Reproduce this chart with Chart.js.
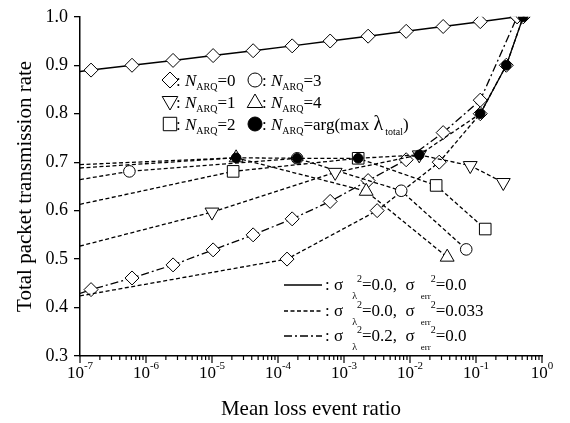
<!DOCTYPE html>
<html>
<head>
<meta charset="utf-8">
<script src="https://cdn.jsdelivr.net/npm/chart.js@4.4.0/dist/chart.umd.min.js"></script>
<style>
  html, body { margin: 0; padding: 0; background: #fff; }
</style>
</head>
<body>
<canvas id="lossChart" width="570" height="423"></canvas>
<script>
// axis ticks
const xTickExps = [-7, -6, -5, -4, -3, -2, -1, 0];
const xMinorMults = [2, 3, 4, 5, 6, 7, 8, 9];
const yTicks = [0.3, 0.4, 0.5, 0.6, 0.7, 0.8, 0.9, 1.0];

// solid: sigma_lambda^2=0.0, sigma_err^2=0.0, N_ARQ=0
const solidX = [1e-7, 1.47e-7, 6.14e-7, 2.57e-6, 1.04e-5, 4.2e-5, 1.64e-4, 6.17e-4, 2.32e-3, 8.75e-3, 3.18e-2, 0.116, 0.42];
const solidY = [0.887, 0.89, 0.90, 0.91, 0.92, 0.93, 0.94, 0.95, 0.96, 0.97, 0.98, 0.99, 1.0];

// dash-dot: sigma_lambda^2=0.2, sigma_err^2=0.0, N_ARQ=0
const dashDotX = [1e-7, 1.47e-7, 6.14e-7, 2.57e-6, 1.04e-5, 4.2e-5, 1.64e-4, 6.17e-4, 2.32e-3, 8.75e-3, 3.18e-2, 0.116, 0.42];
const dashDotY = [0.429, 0.437, 0.461, 0.488, 0.519, 0.550, 0.583, 0.619, 0.662, 0.705, 0.761, 0.828, 1.0];

// dashed: sigma_lambda^2=0.0, sigma_err^2=0.033
const n0X = [1e-7, 1.37e-4, 3.18e-3, 2.77e-2, 0.116, 0.288, 0.52];
const n0Y = [0.424, 0.50, 0.60, 0.70, 0.80, 0.90, 1.0];
const n1X = [1e-7, 1.0e-5, 7.35e-4, 1.38e-2, 8.18e-2, 0.259];
const n1Y = [0.527, 0.597, 0.679, 0.715, 0.693, 0.658];
const n2X = [1e-7, 2.09e-5, 1.64e-3, 2.49e-2, 0.138];
const n2Y = [0.613, 0.681, 0.708, 0.652, 0.562];
const n3X = [1e-7, 5.6e-7, 1.95e-4, 7.36e-3, 7.11e-2];
const n3Y = [0.664, 0.681, 0.708, 0.641, 0.520];
const n4X = [1e-7, 2.32e-5, 2.17e-3, 3.66e-2];
const n4Y = [0.688, 0.709, 0.640, 0.504];
const optX = [1e-7, 2.32e-5, 1.95e-4, 1.64e-3, 1.38e-2, 0.116, 0.288, 0.52];
const optY = [0.695, 0.709, 0.708, 0.708, 0.715, 0.80, 0.90, 1.0];

const serif = '"Liberation Serif", "DejaVu Serif", serif';
const DASH = [4, 2.5];
const DASHDOT = [8, 3, 2, 3];

function pts(xs, ys) {
    return xs.map((x, i) => ({ x, y: ys[i] }));
}

function series(xs, ys, style, r, dash, fill, width) {
    return {
        data: pts(xs, ys),
        borderColor: '#000',
        borderWidth: width || 1.3,
        borderDash: dash,
        pointStyle: style,
        rotation: style === 'triangle' && fill === 'down' ? 180 : 0,
        pointRadius: ctx => ctx.dataIndex === 0 ? 0 : r,
        pointBorderColor: '#000',
        pointBorderWidth: 1,
        pointBackgroundColor: fill === 'black' ? '#000' : '#fff',
        tension: 0,
        fill: false
    };
}

const optSet = series(optX, optY, 'circle', 4.8, DASH, 'black');
// where the optimum rides on the N_ARQ=0 curve the two dashed lines merge into a solid one
optSet.segment = { borderDash: c => c.p0.parsed.y >= 0.79 ? [] : DASH };

const datasets = [
    optSet,
    series(n1X, n1Y, 'triangle', 8, DASH, 'down'),
    series(n2X, n2Y, 'rect', 8.2, DASH),
    series(n3X, n3Y, 'circle', 5.8, DASH),
    series(n4X, n4Y, 'triangle', 8, DASH),
    series(n0X, n0Y, 'rectRot', 7, DASH),
    series(dashDotX, dashDotY, 'rectRot', 7, DASHDOT),
    series(solidX, solidY, 'rectRot', 7, [], null, 1.5)
];

function marker(ctx, style, x, y, r, fill) {
    ctx.beginPath();
    if (style === 'circle') {
        ctx.arc(x, y, r, 0, Math.PI * 2);
    } else if (style === 'rectRot') {
        ctx.moveTo(x - r, y); ctx.lineTo(x, y - r); ctx.lineTo(x + r, y); ctx.lineTo(x, y + r); ctx.closePath();
    } else if (style === 'rect') {
        const s = r * Math.SQRT1_2;
        ctx.rect(x - s, y - s, 2 * s, 2 * s);
    } else {
        const d = style === 'triangle' ? 1 : -1;
        ctx.moveTo(x, y - d * r);
        ctx.lineTo(x + 0.866 * r, y + d * 0.5 * r);
        ctx.lineTo(x - 0.866 * r, y + d * 0.5 * r);
        ctx.closePath();
    }
    ctx.fillStyle = fill;
    ctx.fill();
    ctx.stroke();
}

function runs(ctx, x, y, list) {
    list.forEach(r => {
        ctx.font = r.f;
        ctx.fillStyle = '#000';
        ctx.fillText(r.t, x, y + (r.dy || 0));
        x += ctx.measureText(r.t).width + (r.gap || 0);
    });
    return x;
}

const F17 = '17px ' + serif;
const FI17 = 'italic 17px ' + serif;
const F10 = '10px ' + serif;
const F9 = '9px ' + serif;

function arq(ctx, x, y, tail) {
    return runs(ctx, x, y, [
        { t: ': ', f: F17 },
        { t: 'N', f: FI17 },
        { t: 'ARQ', f: F10, dy: 4 },
        { t: tail, f: F17 }
    ]);
}

function sigmaRow(ctx, x, y, lam, err) {
    runs(ctx, x, y, [
        { t: ': σ', f: F17, gap: 9 },
        { t: 'λ', f: F10, dy: 9 },
        { t: '2', f: F10, dy: -8 },
        { t: '=' + lam + ',  σ', f: F17, gap: 6 },
        { t: 'err', f: F9, dy: 9 },
        { t: '2', f: F10, dy: -8 },
        { t: '=' + err, f: F17 }
    ]);
}

const decor = {
    id: 'decor',
    afterDraw(chart) {
        const ctx = chart.ctx;
        const xs = chart.scales.x;
        const area = chart.chartArea;
        ctx.save();
        ctx.strokeStyle = '#000';
        ctx.fillStyle = '#000';
        ctx.textAlign = 'left';
        ctx.textBaseline = 'alphabetic';

        // x tick marks and 10^n labels
        ctx.lineWidth = 1.2;
        xs.ticks.forEach(t => {
            const px = xs.getPixelForValue(t.value);
            const lg = Math.log10(t.value);
            const e = Math.round(lg);
            const major = Math.abs(lg - e) < 1e-6;
            ctx.beginPath();
            ctx.moveTo(px, area.bottom);
            ctx.lineTo(px, area.bottom + (major ? 7 : 4));
            ctx.stroke();
            if (major) {
                const exp = e === 0 ? '0' : '-' + Math.abs(e);
                ctx.font = F17;
                const bw = ctx.measureText('10').width;
                ctx.font = '11px ' + serif;
                const ew = ctx.measureText(exp).width;
                const x0 = px - (bw + ew) / 2;
                ctx.font = F17;
                ctx.fillText('10', x0, area.bottom + 22);
                ctx.font = '11px ' + serif;
                ctx.fillText(exp, x0 + bw, area.bottom + 13);
            }
        });

        // marker legend
        ctx.lineWidth = 1;
        const c1 = 170, c2 = 255, rows = [80, 102, 124];
        marker(ctx, 'rectRot', c1, rows[0], 8, '#fff');
        arq(ctx, c1 + 6, rows[0] + 6, '=0');
        marker(ctx, 'triangleDown', c1, rows[1] - 1, 9, '#fff');
        arq(ctx, c1 + 6, rows[1] + 6, '=1');
        marker(ctx, 'rect', c1, rows[2], 9.5, '#fff');
        arq(ctx, c1 + 6, rows[2] + 6, '=2');
        marker(ctx, 'circle', c2, rows[0], 7, '#fff');
        arq(ctx, c2 + 7, rows[0] + 6, '=3');
        marker(ctx, 'triangle', c2, rows[1] + 1, 9, '#fff');
        arq(ctx, c2 + 7, rows[1] + 6, '=4');
        marker(ctx, 'circle', c2, rows[2], 7, '#000');
        let x = arq(ctx, c2 + 7, rows[2] + 6, '=arg(max ');
        x = runs(ctx, x, rows[2] + 6, [
            { t: 'λ', f: '20px ' + serif, gap: 2 },
            { t: 'total', f: F10, dy: 5 },
            { t: ')', f: F17 }
        ]);

        // line style legend
        const lx1 = 284, lx2 = 322, lrows = [285, 311, 336];
        const styles = [[], DASH, DASHDOT];
        const labels = [['0.0', '0.0'], ['0.0', '0.033'], ['0.2', '0.0']];
        lrows.forEach((y, i) => {
            ctx.setLineDash(styles[i]);
            ctx.lineWidth = 1.3;
            ctx.beginPath();
            ctx.moveTo(lx1, y);
            ctx.lineTo(lx2, y);
            ctx.stroke();
            ctx.setLineDash([]);
            sigmaRow(ctx, lx2 + 3, y + 5, labels[i][0], labels[i][1]);
        });
        ctx.restore();
    }
};

new Chart(document.getElementById('lossChart').getContext('2d'), {
    type: 'line',
    data: { datasets },
    options: {
        responsive: false,
        animation: false,
        devicePixelRatio: 1,
        layout: { padding: { top: 13, right: 28, left: 0, bottom: 0 } },
        plugins: { legend: { display: false }, tooltip: { enabled: false } },
        scales: {
            x: {
                type: 'logarithmic',
                min: 1e-7,
                max: 1,
                afterBuildTicks: s => {
                    const vals = [];
                    xTickExps.forEach(e => {
                        vals.push(Math.pow(10, e));
                        if (e < 0) xMinorMults.forEach(m => vals.push(m * Math.pow(10, e)));
                    });
                    s.ticks = vals.map(v => ({ value: v }));
                },
                afterFit: s => { s.height = 67; },
                ticks: { display: false },
                grid: { display: false },
                border: { color: '#000', width: 1.5 },
                title: {
                    display: true,
                    text: 'Mean loss event ratio',
                    color: '#000',
                    font: { family: serif, size: 21 },
                    padding: { top: 0, bottom: 1 }
                }
            },
            y: {
                min: 0.3,
                max: 1.0,
                afterBuildTicks: s => { s.ticks = yTicks.map(v => ({ value: v })); },
                afterFit: s => { s.width = 80; },
                ticks: {
                    color: '#000',
                    padding: 6,
                    font: { family: serif, size: 18 },
                    callback: v => Number(v).toFixed(1)
                },
                grid: { drawOnChartArea: false, drawTicks: true, tickLength: 6, color: '#000', lineWidth: 1.3 },
                border: { color: '#000', width: 1.5 },
                title: {
                    display: true,
                    text: 'Total packet transmission rate',
                    color: '#000',
                    font: { family: serif, size: 21 },
                    padding: { top: 13, bottom: 0 }
                }
            }
        }
    },
    plugins: [decor]
});
</script>
</body>
</html>
